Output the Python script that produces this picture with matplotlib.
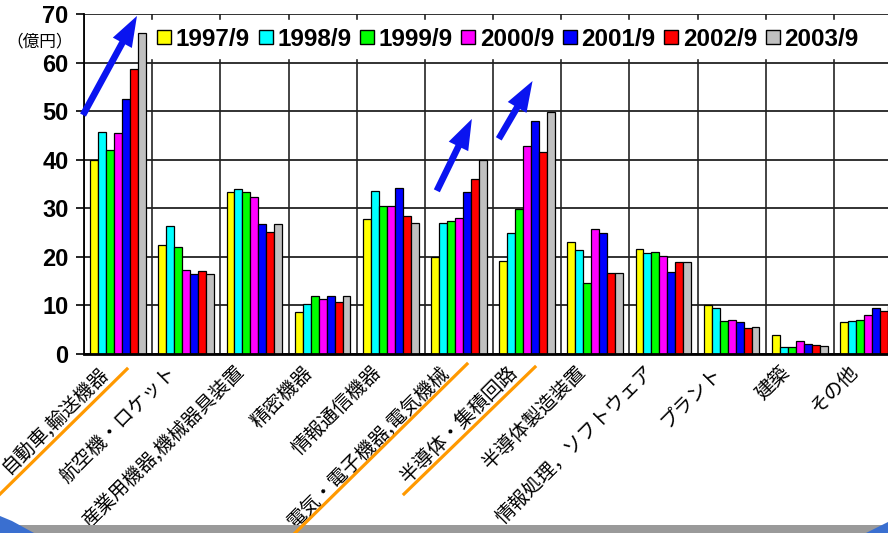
import numpy as np
import matplotlib.pyplot as plt
from matplotlib.patches import Patch, Rectangle, Polygon
from matplotlib.lines import Line2D
from matplotlib.transforms import ScaledTranslation

plt.rcParams['font.family'] = ['Liberation Sans', 'Noto Sans CJK JP', 'DejaVu Sans']

categories = ['自動車,輸送機器', '航空機・ロケット', '産業用機器,機械器具装置', '精密機器',
              '情報通信機器', '電気・電子機器,電気機械', '半導体・集積回路', '半導体製造装置',
              '情報処理，ソフトウェア', 'プラント', '建築', 'その他']
years = ['1997/9', '1998/9', '1999/9', '2000/9', '2001/9', '2002/9', '2003/9']
colors = ['#FFFF00', '#00FFFF', '#00FF00', '#FF00FF', '#0000FF', '#FF0000', '#C0C0C0']

v1997 = [40.0, 22.4, 33.3, 8.6, 27.8, 19.9, 19.2, 23.0, 21.7, 10.1, 3.9, 6.5]
v1998 = [45.8, 26.3, 33.9, 10.2, 33.6, 27.0, 24.9, 21.4, 20.7, 9.4, 1.4, 6.7]
v1999 = [42.1, 22.1, 33.3, 11.9, 30.5, 27.3, 29.8, 14.7, 21.1, 6.7, 1.4, 7.1]
v2000 = [45.6, 17.2, 32.3, 11.3, 30.4, 28.0, 42.8, 25.7, 20.2, 6.9, 2.7, 8.0]
v2001 = [52.6, 16.4, 26.7, 11.9, 34.2, 33.3, 47.9, 24.9, 16.8, 6.5, 2.1, 9.4]
v2002 = [58.6, 17.1, 25.1, 10.8, 28.4, 36.1, 41.5, 16.6, 18.9, 5.3, 1.8, 8.8]
v2003 = [66.0, 16.4, 26.7, 11.9, 27.0, 39.9, 49.8, 16.6, 18.9, 5.6, 1.7, 9.8]
series = [v1997, v1998, v1999, v2000, v2001, v2002, v2003]

W, H = 888, 533
fig = plt.figure(figsize=(W / 100, H / 100), dpi=100)
ax = fig.add_axes([84 / W, 1 - 354 / H, (902 - 84) / W, 340 / H])

x = np.arange(len(categories))
bw = 0.117
for i, (vals, c) in enumerate(zip(series, colors)):
    ax.bar(x + (i - 3) * bw, vals, bw, color=c, edgecolor='black', linewidth=0.9, zorder=3)

ax.set_xlim(-0.5, len(categories) - 0.5)
ax.set_ylim(0, 70)
ax.set_yticks(np.arange(0, 71, 10))
ax.set_xticks(x)
ax.set_xticks(np.arange(-0.5, len(categories), 1), minor=True)
ax.grid(True, which='minor', axis='x', color='#111111', lw=1.1, zorder=1)
ax.grid(True, which='major', axis='y', color='#222222', lw=1.3, zorder=1)
ax.tick_params(axis='x', which='both', length=0, pad=11)
ax.tick_params(axis='y', length=6, width=1.2, pad=5)
for lab in ax.get_yticklabels():
    lab.set_fontsize(17)
    lab.set_fontweight('bold')
ax.set_xticklabels(categories, rotation=45, ha='right', va='center',
                   rotation_mode='anchor', fontsize=14,
                   family=['Noto Sans CJK JP', 'DejaVu Sans'])
off = ScaledTranslation(-0.13, 0, fig.dpi_scale_trans)
for lab in ax.get_xticklabels():
    lab.set_transform(lab.get_transform() + off)
for s in ['top', 'right']:
    ax.spines[s].set_visible(False)
ax.spines['left'].set_linewidth(1.3)
ax.spines['bottom'].set_linewidth(2)
ax.spines['bottom'].set_zorder(4)

fig.text(6 / W, 1 - 42 / H, '（億円）', fontsize=12, va='center', ha='left',
         family=['Noto Sans CJK JP', 'DejaVu Sans'])

# legend
handles = [Patch(facecolor=c, edgecolor='black', lw=1) for c in colors]
leg = fig.legend(handles, years, ncol=7, loc='center left',
                 bbox_to_anchor=(150 / W, 1 - 39 / H), frameon=True,
                 fancybox=False, framealpha=1, edgecolor='white',
                 prop={'weight': 'bold', 'size': 17.5}, handlelength=0.58,
                 handleheight=0.55, handletextpad=0.18, columnspacing=0.36,
                 borderpad=0.3, borderaxespad=0)
leg.set_zorder(5)

# blue arrows
arrows = [((-0.515, 49.2), (0.277, 69.6)),
          ((4.676, 33.6), (5.19, 48.4)),
          ((5.585, 44.3), (6.08, 56.2))]
for tail, tip in arrows:
    ax.annotate('', xy=tip, xytext=tail, annotation_clip=False, zorder=6,
                arrowprops=dict(arrowstyle='simple,head_length=1.1,head_width=0.78,tail_width=0.24',
                                mutation_scale=20, color='#0A14F0', lw=0,
                                shrinkA=0, shrinkB=0))

# orange underline strokes
def px(xp, yp):
    return xp / W, 1 - yp / H

for (x0, y0), (x1, y1) in [((127, 369), (-5, 499)),
                           ((467, 364), (293, 535)),
                           ((535, 367), (404, 494))]:
    a, b = px(x0, y0)
    c, d = px(x1, y1)
    fig.add_artist(Line2D([a, c], [b, d], color='#FF9900', lw=2.3))

# slide footer band
fig.add_artist(Rectangle((0, 0), 1, 8 / H, color='#9A9A9A', lw=0))
fig.add_artist(Polygon([px(0, 516), px(12, 521), px(34, 533), px(0, 533)],
                       closed=True, color='#3A6FD0', lw=0))
fig.add_artist(Polygon([px(866, 533), px(888, 522), px(888, 533)],
                       closed=True, color='#3A6FD0', lw=0))

fig.savefig('out.png', dpi=100)
